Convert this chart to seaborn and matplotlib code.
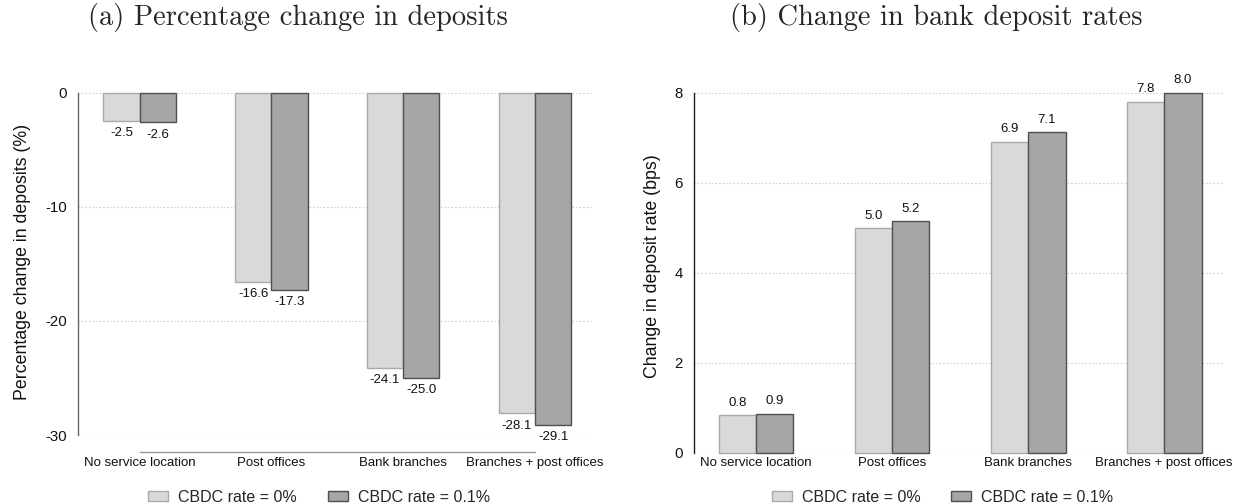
import matplotlib
matplotlib.use("Agg")
import matplotlib.pyplot as plt
from matplotlib.patches import Patch
import seaborn as sns
import pandas as pd

# ---- data ----
locations = ["No service location", "Post offices", "Bank branches", "Branches + post offices"]
scenarios = ["CBDC rate = 0%", "CBDC rate = 0.1%"]
deposits_0 = [-2.5, -16.6, -24.1, -28.1]
deposits_01 = [-2.6, -17.3, -25.0, -29.1]
rates_0 = [0.84, 4.99, 6.91, 7.80]
rates_01 = [0.87, 5.15, 7.12, 8.00]
left_yticks = [0, -10, -20, -30]
right_yticks = [0, 2, 4, 6, 8]
title_a = "(a) Percentage change in deposits"
title_b = "(b) Change in bank deposit rates"
ylabel_a = "Percentage change in deposits (%)"
ylabel_b = "Change in deposit rate (bps)"

sns.set_style("white")
plt.rcParams["font.family"] = ["Liberation Sans", "DejaVu Sans"]
plt.rcParams["axes.unicode_minus"] = False

light_fill, light_edge = "#d9d9d9", "#a9a9a9"
dark_fill, dark_edge = "#a6a6a6", "#4f4f4f"

def make_df(v0, v1):
    return pd.DataFrame({
        "location": locations * 2,
        "scenario": [scenarios[0]] * 4 + [scenarios[1]] * 4,
        "value": list(v0) + list(v1),
    })

fig = plt.figure(figsize=(12.34, 5.04), dpi=100)
axL = fig.add_axes([0.06345, 0.13690, 0.41686, 0.67917])
axR = fig.add_axes([0.56240, 0.10179, 0.42950, 0.71429])

for ax, df, ylim, yt, ylab, spine_col in [
    (axL, make_df(deposits_0, deposits_01), (-30, 0), left_yticks, ylabel_a, "#666666"),
    (axR, make_df(rates_0, rates_01), (0, 8), right_yticks, ylabel_b, "#1e1e1e"),
]:
    sns.barplot(data=df, x="location", y="value", hue="scenario", order=locations,
                hue_order=scenarios, palette=[light_fill, dark_fill], width=0.55,
                saturation=1, ax=ax, legend=False)
    for cont, ec in zip(ax.containers, [light_edge, dark_edge]):
        for p in cont:
            p.set_edgecolor(ec)
            p.set_linewidth(1.0)
            p.set_clip_on(False)
        ax.bar_label(cont, fmt="%.1f", padding=4.5, fontsize=9.5, color="#111111")
    ax.set_ylim(*ylim)
    ax.set_yticks(yt)
    ax.set_yticklabels([str(t) for t in yt])
    ax.set_xlabel("")
    ax.set_ylabel(ylab, fontsize=12.8, color="#111111")
    ax.yaxis.grid(True, linestyle=(0, (1, 2.2)), color="#bdbdbd", linewidth=0.8)
    ax.xaxis.grid(False)
    ax.set_axisbelow(True)
    for s in ["top", "right"]:
        ax.spines[s].set_visible(False)
    ax.spines["left"].set_color(spine_col)
    ax.spines["left"].set_linewidth(1.0)
    ax.tick_params(axis="y", length=4, width=0.8, color=spine_col, pad=4.2,
                   labelsize=10.8, labelcolor="#111111")
    ax.tick_params(axis="x", length=0, labelsize=9.5, labelcolor="#111111", pad=3.2)

axL.set_xlim(-0.465, 3.438)
axR.set_xlim(-0.456, 3.44)

# left: stata-like offset x-axis line spanning category centers
axL.spines["bottom"].set_position(("outward", 12.5))
axL.spines["bottom"].set_bounds(0, 3)
axL.spines["bottom"].set_color("#9a9a9a")
axL.spines["bottom"].set_linewidth(1.0)
axR.spines["bottom"].set_visible(False)

axL.yaxis.set_label_coords(-0.092, 0.505)
axR.yaxis.set_label_coords(-0.062, 0.517)

handles = [Patch(facecolor=light_fill, edgecolor=light_edge, linewidth=1.0),
           Patch(facecolor=dark_fill, edgecolor=dark_edge, linewidth=1.0)]
for xpx in [148.3, 771.7]:
    fig.legend(handles, scenarios, loc="center left", bbox_to_anchor=(xpx / 1234, 1 - 497 / 504),
               ncol=2, frameon=False, borderpad=0, borderaxespad=0, fontsize=11.5,
               handlelength=1.25, handleheight=0.56, handletextpad=0.62, columnspacing=1.94)

fig.text(298 / 1234, 1 - 17 / 504, title_a, family="cmr10", fontsize=20.5, ha="center", va="center")
fig.text(936 / 1234, 1 - 17 / 504, title_b, family="cmr10", fontsize=20.5, ha="center", va="center")

fig.savefig("out.png", dpi=100)
